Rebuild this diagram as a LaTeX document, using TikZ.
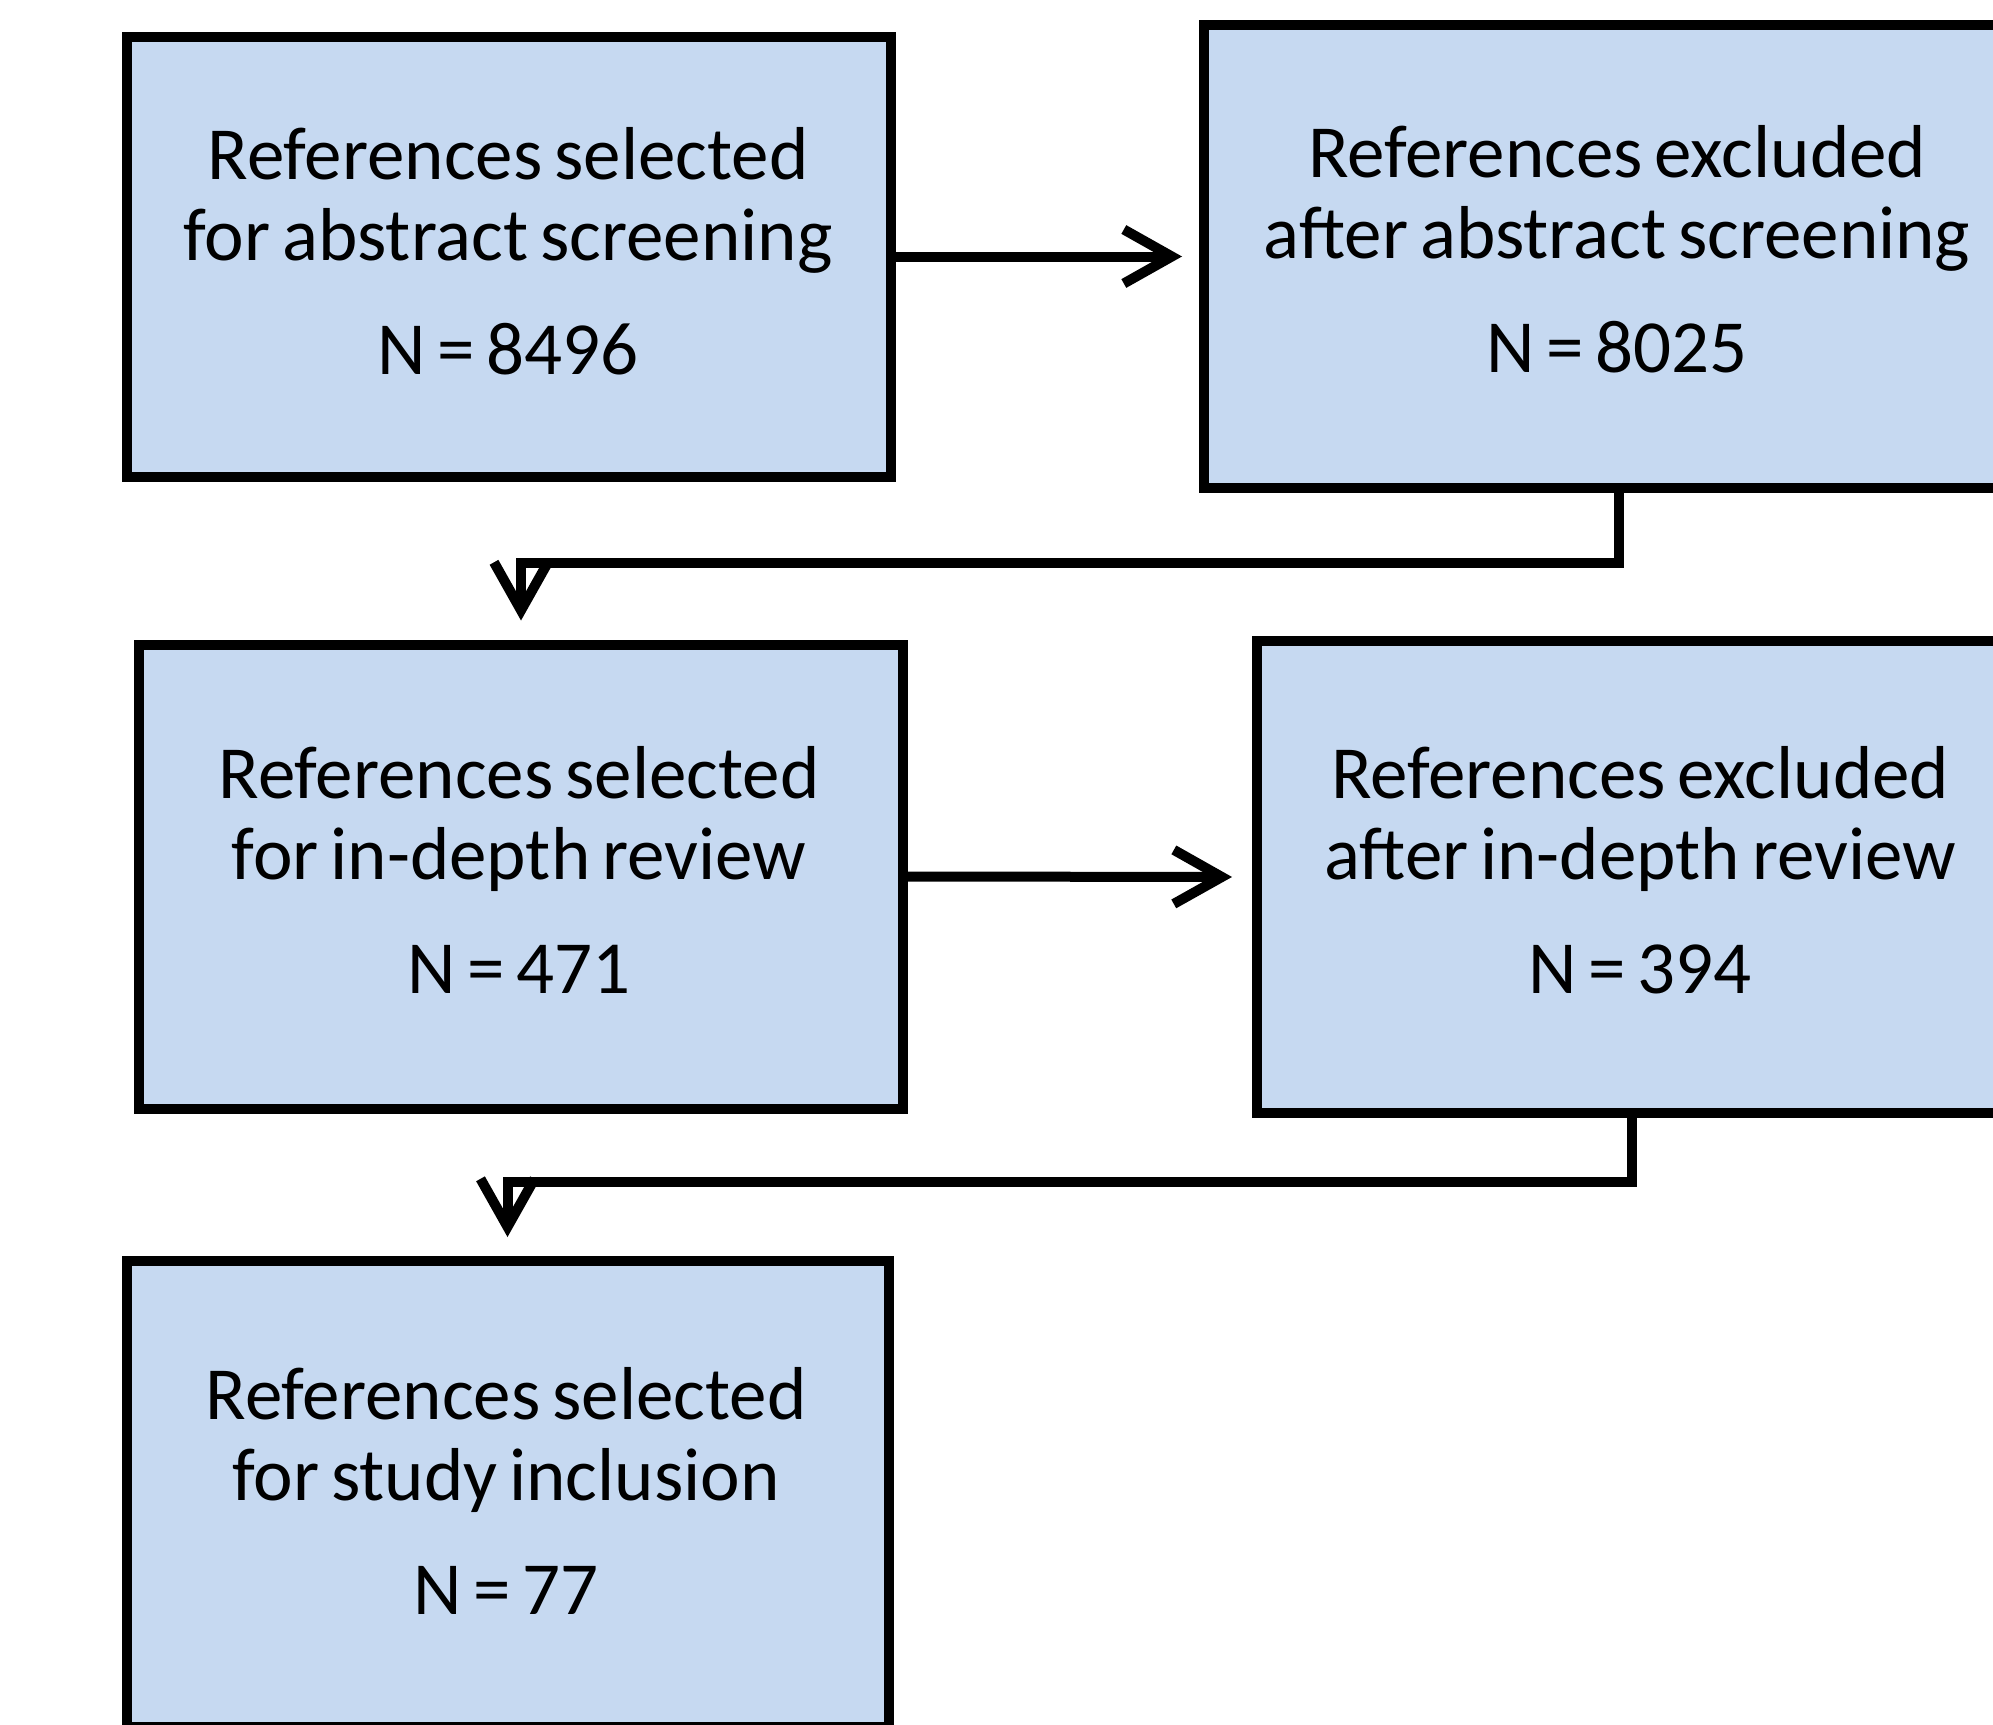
\documentclass[tikz,border=0pt]{standalone}
\usepackage{fontspec}
\setmainfont[WordSpace=0.7]{Carlito}
\usetikzlibrary{arrows.meta}
\definecolor{boxblue}{HTML}{C6D9F1}

\begin{document}
\begin{tikzpicture}[x=1pt,y=-1pt,
  box/.style={draw=black,line width=10pt,fill=boxblue,rectangle,inner sep=0pt},
  txt/.style={align=center,inner sep=0pt,anchor=north,font=\fontsize{75}{81}\selectfont},
  flow/.style={line width=10pt,-{Straight Barb[length=48pt,width=54pt,line width=10pt]}}]
  \useasboundingbox (0,0) rectangle (1993,1724);
  \clip (0,0) rectangle (1993,1724);
  \node[box,minimum width=764pt,minimum height=440pt] (sel1) at (508.5,256.5) {};
  \node[box,minimum width=830pt,minimum height=463pt] (excl1) at (1619,256.5) {};
  \node[box,minimum width=764pt,minimum height=464pt] (sel2) at (521,876.5) {};
  \node[box,minimum width=750pt,minimum height=472pt] (excl2) at (1632,877) {};
  \node[box,minimum width=762pt,minimum height=466pt] (incl) at (507.5,1494) {};
  \node[txt] (sel1t) at (508,127) {References selected\\for abstract screening\\[33pt]N = 8496};
  \node[txt] (excl1t) at (1617,125) {References excluded\\after abstract screening\\[33pt]N = 8025};
  \node[txt] (sel2t) at (519,746) {References selected\\for in-depth review\\[33pt]N = 471};
  \node[txt] (excl2t) at (1640,746) {References excluded\\after in-depth review\\[33pt]N = 394};
  \node[txt] (inclt) at (506,1367) {References selected\\for study inclusion\\[33pt]N = 77};
  \coordinate (bend1) at (0,563);
  \coordinate (bend2) at (0,1182);
  \draw[flow,shorten >=17pt] (sel1.east) -- (excl1.west);
  \draw[flow,shorten >=20pt] (sel2.east) -- (excl2.west);
  \draw[flow,shorten >=19pt] (excl1.south) -- (excl1.south |- bend1) -| (sel2.north);
  \draw[flow,shorten >=19pt] (excl2.south) -- (excl2.south |- bend2) -| (incl.north);
\end{tikzpicture}
\end{document}
